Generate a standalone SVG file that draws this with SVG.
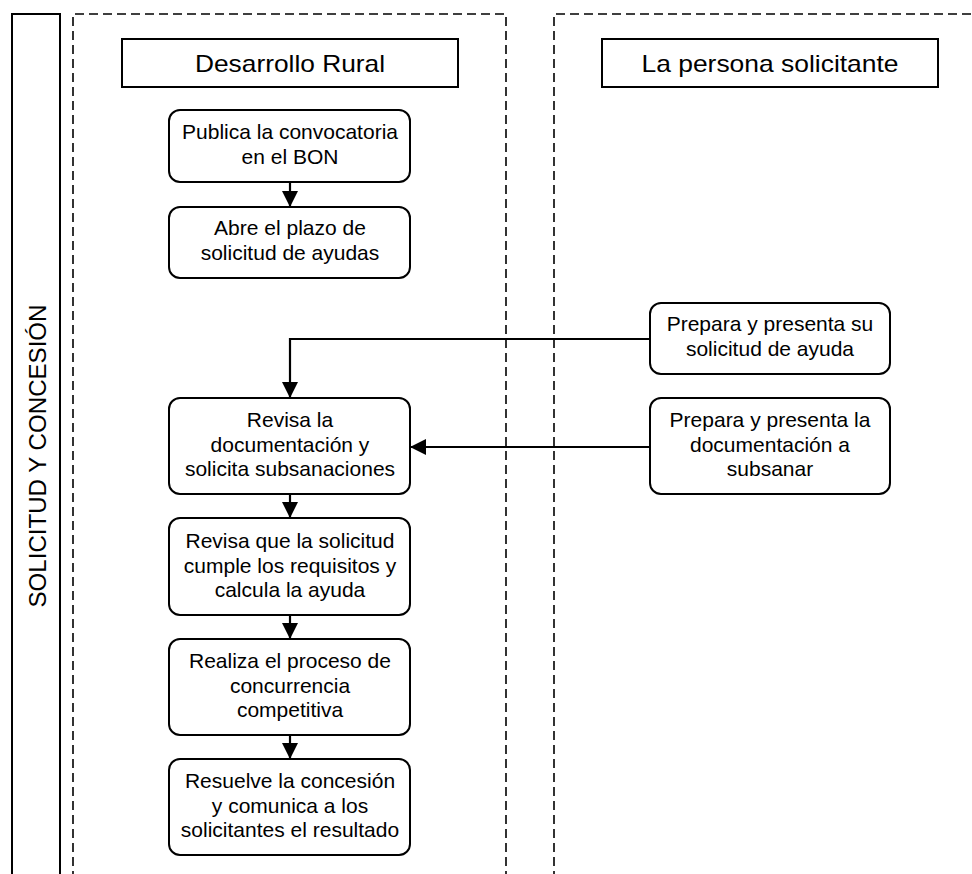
<svg xmlns="http://www.w3.org/2000/svg" width="972" height="874" viewBox="0 0 972 874">
<style>
.bg{fill:#ffffff}
.lane{fill:none;stroke:#000;stroke-width:1.6;stroke-dasharray:9 5}
.frame{fill:none;stroke:#000;stroke-width:2}
.hdr{fill:#fff;stroke:#000;stroke-width:2}
.box{fill:#fff;stroke:#000;stroke-width:2}
.conn{fill:none;stroke:#000;stroke-width:2.2}
.t{font-family:"Liberation Sans",Arial,sans-serif;font-size:21px;fill:#000;text-anchor:middle}
.h{font-family:"Liberation Sans",Arial,sans-serif;font-size:24px;fill:#000;text-anchor:middle}
.v{font-family:"Liberation Sans",Arial,sans-serif;font-size:24px;fill:#000;text-anchor:middle}
</style>
<defs>
<marker id="arr" viewBox="0 0 16 16" refX="16" refY="8" markerWidth="16" markerHeight="16" markerUnits="userSpaceOnUse" orient="auto">
<path d="M0,0 L16,8 L0,16 z" fill="#000"/>
</marker>
</defs>
<rect class="bg" x="0" y="0" width="972" height="874"/>
<g id="pool">
<path class="frame" d="M12,880 L12,14 L60,14 L60,880"/>
<text class="v" transform="translate(46,456) rotate(-90)" textLength="303" lengthAdjust="spacingAndGlyphs">SOLICITUD Y CONCESIÓN</text>
</g>
<g id="lane-desarrollo">
<path class="lane" d="M73,880 L73,14 L506,14 L506,880"/>
<rect class="hdr" x="122" y="39" width="336" height="48"/>
<text class="h" x="290" y="72" textLength="190" lengthAdjust="spacingAndGlyphs">Desarrollo Rural</text>
</g>
<g id="lane-persona">
<path class="lane" d="M554,880 L554,14 L980,14"/>
<rect class="hdr" x="602" y="39" width="336" height="48"/>
<text class="h" x="770" y="72" textLength="257" lengthAdjust="spacingAndGlyphs">La persona solicitante</text>
</g>
<g id="connectors">
<path class="conn" d="M290,182 L290,207" marker-end="url(#arr)"/>
<path class="conn" d="M650,339 L290,339 L290,398" marker-end="url(#arr)"/>
<path class="conn" d="M650,447 L410,447" marker-end="url(#arr)"/>
<path class="conn" d="M290,494 L290,518" marker-end="url(#arr)"/>
<path class="conn" d="M290,615 L290,639" marker-end="url(#arr)"/>
<path class="conn" d="M290,735 L290,759" marker-end="url(#arr)"/>
</g>
<g id="n1">
<rect class="box" x="169" y="110" width="241" height="72" rx="11"/>
<text class="t" x="290" y="139">Publica la convocatoria</text>
<text class="t" x="290" y="163.5">en el BON</text>
</g>
<g id="n2">
<rect class="box" x="169" y="207" width="241" height="71" rx="11"/>
<text class="t" x="290" y="235">Abre el plazo de</text>
<text class="t" x="290" y="259.5">solicitud de ayudas</text>
</g>
<g id="n3">
<rect class="box" x="169" y="398" width="241" height="96" rx="11"/>
<text class="t" x="290" y="427">Revisa la</text>
<text class="t" x="290" y="451.5">documentación y</text>
<text class="t" x="290" y="476">solicita subsanaciones</text>
</g>
<g id="n4">
<rect class="box" x="169" y="518" width="241" height="97" rx="11"/>
<text class="t" x="290" y="548">Revisa que la solicitud</text>
<text class="t" x="290" y="572.5">cumple los requisitos y</text>
<text class="t" x="290" y="597">calcula la ayuda</text>
</g>
<g id="n5">
<rect class="box" x="169" y="639" width="241" height="96" rx="11"/>
<text class="t" x="290" y="668">Realiza el proceso de</text>
<text class="t" x="290" y="692.5">concurrencia</text>
<text class="t" x="290" y="717">competitiva</text>
</g>
<g id="n6">
<rect class="box" x="169" y="759" width="241" height="96" rx="11"/>
<text class="t" x="290" y="788">Resuelve la concesión</text>
<text class="t" x="290" y="812.5">y comunica a los</text>
<text class="t" x="290" y="837">solicitantes el resultado</text>
</g>
<g id="p1">
<rect class="box" x="650" y="303" width="240" height="71" rx="11"/>
<text class="t" x="770" y="331">Prepara y presenta su</text>
<text class="t" x="770" y="355.5">solicitud de ayuda</text>
</g>
<g id="p2">
<rect class="box" x="650" y="398" width="240" height="96" rx="11"/>
<text class="t" x="770" y="427">Prepara y presenta la</text>
<text class="t" x="770" y="451.5">documentación a</text>
<text class="t" x="770" y="476">subsanar</text>
</g>
</svg>
